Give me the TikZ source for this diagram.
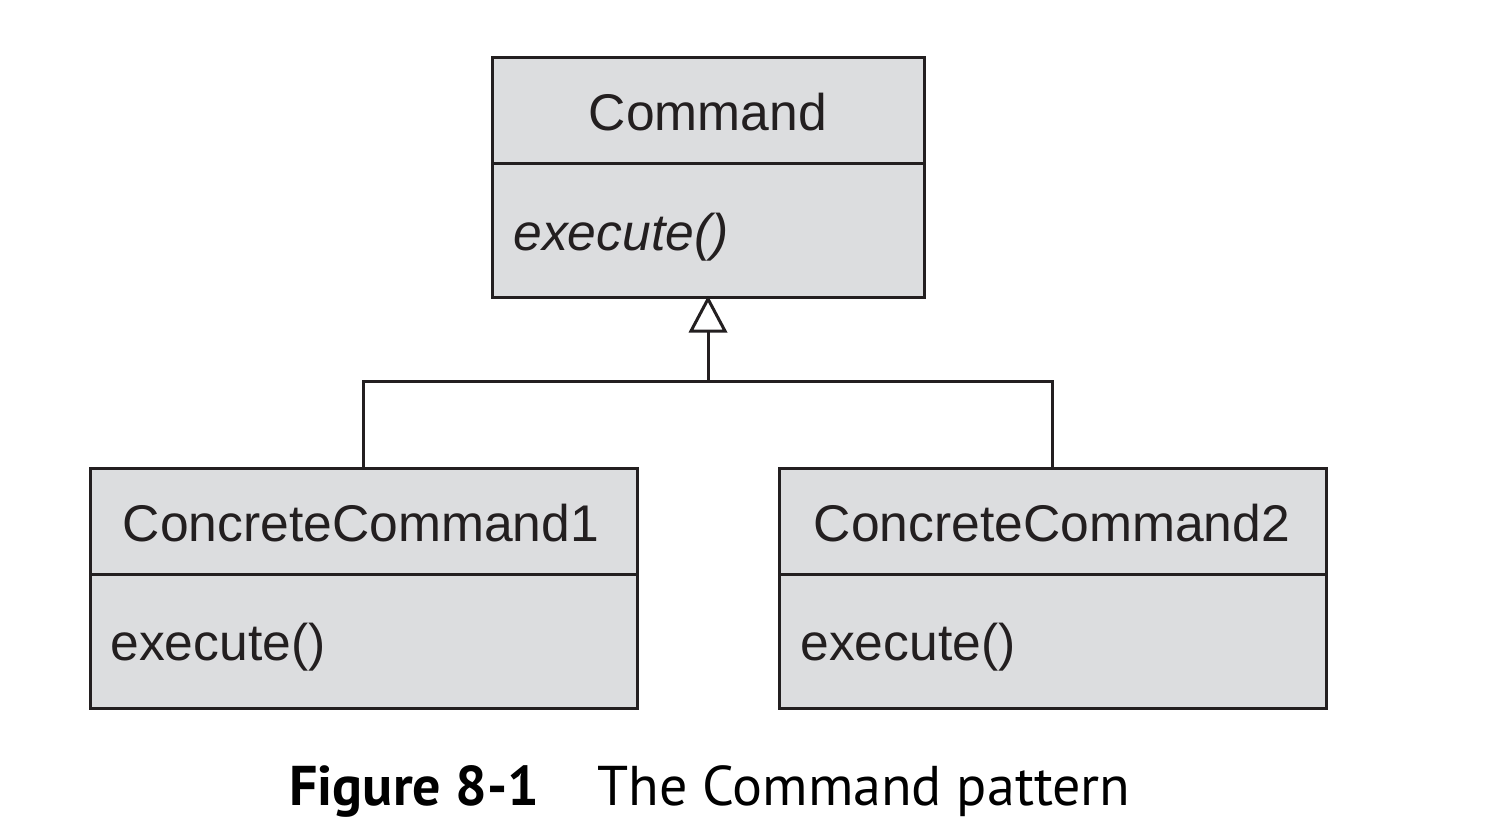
\documentclass[tikz,border=0pt]{standalone}
\usepackage{fontspec}
\setmainfont{Liberation Sans}
\newfontfamily\capfont{PT Sans}
\definecolor{boxgray}{HTML}{DCDDDF}
\definecolor{ink}{HTML}{231F20}
\tikzset{
  umlbox/.style={draw=ink, line width=1.5pt, fill=boxgray},
  umlline/.style={draw=ink, line width=1.5pt},
  lbl/.style={inner sep=0pt, text=ink, font=\fontsize{25.8}{30}\selectfont},
  caplbl/.style={inner sep=0pt, text=black, font=\capfont\fontsize{28}{32}\selectfont},
}
\begin{document}
\begin{tikzpicture}[x=0.5pt, y=-0.5pt]
\useasboundingbox (0,0) rectangle (1506,840);
% Command
\draw[umlbox] (492,58) rectangle (924,297);
\draw[umlline] (492,164) -- (924,164);
\node[lbl, anchor=base] (cmd) at (708,131) {Command};
\node[lbl, anchor=base west] (cmdop) at (513,250) {\itshape execute()};
% ConcreteCommand1
\draw[umlbox] (90,468) rectangle (637,708);
\draw[umlline] (90,574) -- (637,574);
\node[lbl, anchor=base] (cc1) at (361,541) {ConcreteCommand1};
\node[lbl, anchor=base west] (cc1op) at (110,660) {execute()};
% ConcreteCommand2
\draw[umlbox] (779,468) rectangle (1326,708);
\draw[umlline] (779,574) -- (1326,574);
\node[lbl, anchor=base] (cc2) at (1052,541) {ConcreteCommand2};
\node[lbl, anchor=base west] (cc2op) at (800,660) {execute()};
% generalization
\coordinate (tip) at (708,299);
\coordinate (base) at (708,331);
\coordinate (join) at (708,381);
\coordinate (l) at (363,381);
\coordinate (r) at (1052,381);
\draw[umlline, fill=white, line join=miter] (tip) -- (691,331) -- (725,331) -- cycle;
\draw[umlline] (base) -- (join);
\draw[umlline] (363,468) -- (l) -- (r) -- (1052,468);
% caption
\node[caplbl, anchor=base west] (fig) at (289,805) {\bfseries Figure 8-1};
\node[caplbl, anchor=base west] (cap) at (597,805) {The Command pattern};
\end{tikzpicture}
\end{document}
